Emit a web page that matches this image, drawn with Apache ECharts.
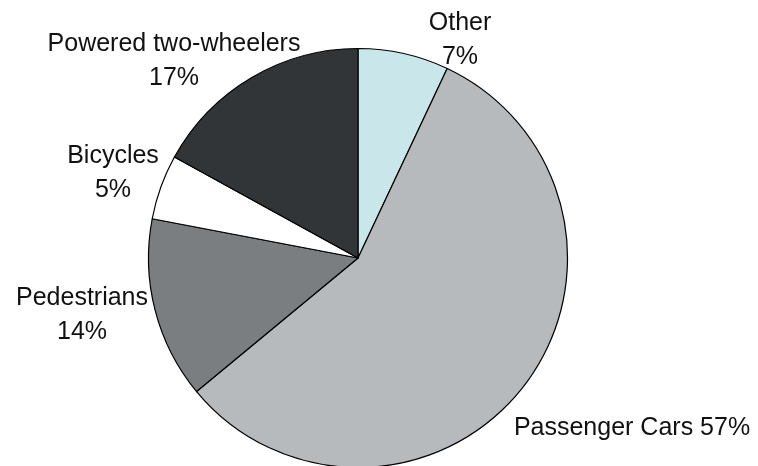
<!DOCTYPE html>
<html>
<head>
<meta charset="utf-8">
<script src="https://cdn.jsdelivr.net/npm/echarts@6/dist/echarts.min.js"></script>
<style>
  html, body { margin: 0; padding: 0; background: #fff; }
</style>
</head>
<body>
<div id="chart" style="width: 758px; height: 466px;"></div>
<script>
// data, clockwise from 12 o'clock
const categories = ['Other', 'Passenger Cars', 'Pedestrians', 'Bicycles', 'Powered two-wheelers']
const shares = [7, 57, 14, 5, 17]

// styling only
const colors = ['#c9e7ea', '#b6babc', '#7b7e80', '#ffffff', '#313538']
const labelSpots = [
  { x: 460, y: 40, oneLine: false },
  { x: 632, y: 428, oneLine: true },
  { x: 82, y: 315, oneLine: false },
  { x: 113, y: 173, oneLine: false },
  { x: 174, y: 61, oneLine: false }
]

let myChart = echarts.init(document.getElementById('chart'))
myChart.setOption({
  animation: false,
  backgroundColor: '#fff',
  series: [
    {
      type: 'pie',
      center: [358, 258],
      radius: 209.5,
      startAngle: 90,
      clockwise: true,
      avoidLabelOverlap: false,
      data: categories.map((name, i) => ({
        name: name,
        value: shares[i],
        itemStyle: { color: colors[i] }
      })),
      itemStyle: {
        borderColor: '#000',
        borderWidth: 1.2
      },
      label: {
        show: true,
        position: 'outside',
        color: '#111',
        fontFamily: 'Liberation Sans, Arial, sans-serif',
        fontSize: 25,
        lineHeight: 34,
        formatter: function (p) {
          return labelSpots[p.dataIndex].oneLine ? p.name + ' ' + p.value + '%' : p.name + '\n' + p.value + '%'
        }
      },
      labelLine: { show: false },
      labelLayout: function (params) {
        let s = labelSpots[params.dataIndex]
        return { x: s.x, y: s.y, align: 'center', verticalAlign: 'middle' }
      },
      emphasis: { disabled: true }
    }
  ]
})
</script>
</body>
</html>
